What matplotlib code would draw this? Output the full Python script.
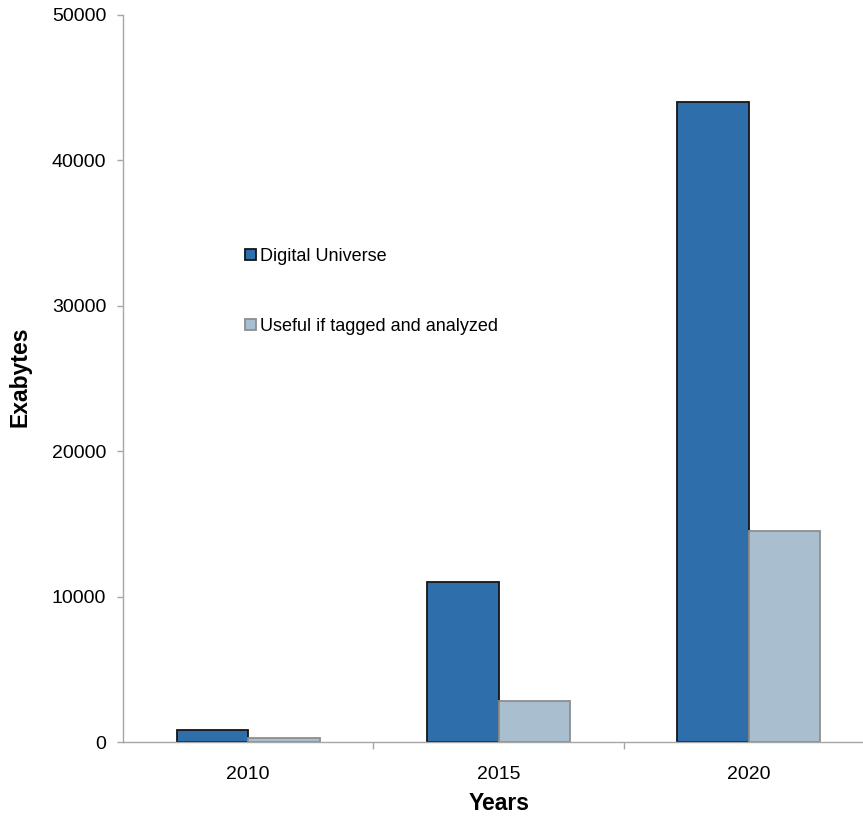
import numpy as np
import matplotlib.pyplot as plt
from matplotlib.ticker import FixedLocator, NullFormatter, FixedFormatter

plt.rcParams['font.family'] = ['Liberation Sans', 'DejaVu Sans']

years = ["2010", "2015", "2020"]
digital_universe = [850, 11000, 44000]
useful_tagged = [270, 2800, 14500]
series_names = ["Digital Universe", "Useful if tagged and analyzed"]

du_color = "#2d6eab"
useful_color = "#a9bece"
axis_grey = "#a6a6a6"

fig = plt.figure(figsize=(8.63, 8.22), dpi=100)
ax = fig.add_axes([123 / 863, 1 - 742 / 822, 751 / 863, 727 / 822])

x = np.arange(len(years))
w = 0.286
ax.bar(x - w / 2, digital_universe, w, color=du_color, edgecolor="#151515",
       linewidth=1.3, label=series_names[0])
ax.bar(x + w / 2, useful_tagged, w, color=useful_color, edgecolor="#8e8e8e",
       linewidth=1.3, label=series_names[1])

ax.set_xlim(-0.5, 2.5)
ax.set_ylim(0, 50000)
ax.set_yticks(np.arange(0, 50001, 10000))

# group separators as major ticks, year labels on minor ticks
ax.xaxis.set_major_locator(FixedLocator([0.5, 1.5]))
ax.xaxis.set_major_formatter(NullFormatter())
ax.xaxis.set_minor_locator(FixedLocator(x))
ax.xaxis.set_minor_formatter(FixedFormatter(years))
ax.tick_params(axis="x", which="major", direction="out", length=5, color=axis_grey, width=1)
ax.tick_params(axis="x", which="minor", length=0, pad=17, labelsize=14)
ax.tick_params(axis="y", direction="out", length=4, color=axis_grey, width=1, pad=8, labelsize=14)

for side in ("top", "right"):
    ax.spines[side].set_visible(False)
for side in ("left", "bottom"):
    ax.spines[side].set_color(axis_grey)
    ax.spines[side].set_linewidth(1)

fig.text(20 / 863, 1 - 377 / 822, "Exabytes", rotation=90, ha="center", va="center",
         fontsize=16.5, fontweight="bold")
fig.text(499 / 863, 1 - 803 / 822, "Years", ha="center", va="center",
         fontsize=16.5, fontweight="bold")

leg = ax.legend(loc="upper left", bbox_to_anchor=(238 / 863, 1 - 241 / 822),
                bbox_transform=fig.transFigure, frameon=False, fontsize=13,
                handlelength=0.58, handleheight=0.58, handletextpad=0.25,
                labelspacing=2.9, borderaxespad=0)

fig.savefig("out.png", dpi=100)
